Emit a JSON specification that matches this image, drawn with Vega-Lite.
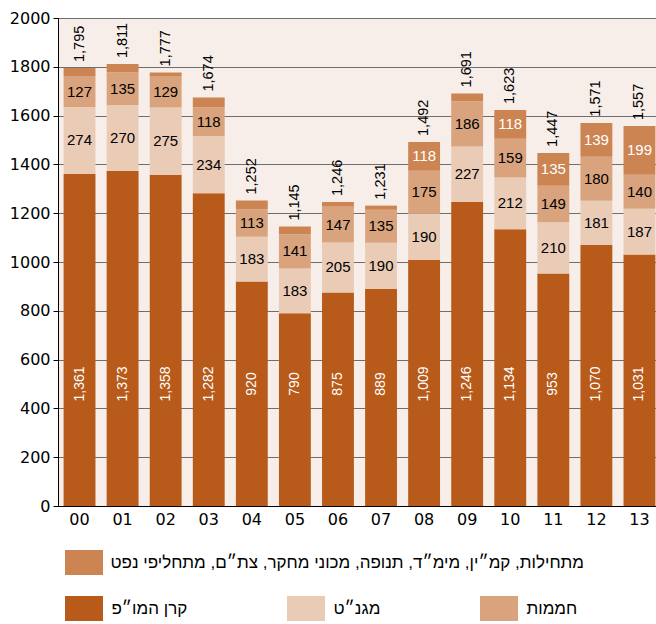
{
  "$schema": "https://vega.github.io/schema/vega-lite/v6.json",
  "width": 603,
  "height": 488,
  "autosize": {"type": "none"},
  "padding": {"left": 58, "top": 18, "right": 0, "bottom": 118},
  "background": "white",
  "config": {
    "view": {"fill": "#f7eee9", "stroke": "#000000", "strokeWidth": 1},
    "font": "Liberation Sans"
  },
  "datasets": {
    "seg": [
      {"year": "00", "series": "קרן המו״פ", "rank": 1, "value": 1361},
      {"year": "00", "series": "מגנ״ט", "rank": 2, "value": 274},
      {"year": "00", "series": "חממות", "rank": 3, "value": 127},
      {"year": "00", "series": "מתחילות, קמ״ין, מימ״ד, תנופה, מכוני מחקר, צת״ם, מתחליפי נפט", "rank": 4, "value": 33},
      {"year": "01", "series": "קרן המו״פ", "rank": 1, "value": 1373},
      {"year": "01", "series": "מגנ״ט", "rank": 2, "value": 270},
      {"year": "01", "series": "חממות", "rank": 3, "value": 135},
      {"year": "01", "series": "מתחילות, קמ״ין, מימ״ד, תנופה, מכוני מחקר, צת״ם, מתחליפי נפט", "rank": 4, "value": 33},
      {"year": "02", "series": "קרן המו״פ", "rank": 1, "value": 1358},
      {"year": "02", "series": "מגנ״ט", "rank": 2, "value": 275},
      {"year": "02", "series": "חממות", "rank": 3, "value": 129},
      {"year": "02", "series": "מתחילות, קמ״ין, מימ״ד, תנופה, מכוני מחקר, צת״ם, מתחליפי נפט", "rank": 4, "value": 15},
      {"year": "03", "series": "קרן המו״פ", "rank": 1, "value": 1282},
      {"year": "03", "series": "מגנ״ט", "rank": 2, "value": 234},
      {"year": "03", "series": "חממות", "rank": 3, "value": 118},
      {"year": "03", "series": "מתחילות, קמ״ין, מימ״ד, תנופה, מכוני מחקר, צת״ם, מתחליפי נפט", "rank": 4, "value": 40},
      {"year": "04", "series": "קרן המו״פ", "rank": 1, "value": 920},
      {"year": "04", "series": "מגנ״ט", "rank": 2, "value": 183},
      {"year": "04", "series": "חממות", "rank": 3, "value": 113},
      {"year": "04", "series": "מתחילות, קמ״ין, מימ״ד, תנופה, מכוני מחקר, צת״ם, מתחליפי נפט", "rank": 4, "value": 36},
      {"year": "05", "series": "קרן המו״פ", "rank": 1, "value": 790},
      {"year": "05", "series": "מגנ״ט", "rank": 2, "value": 183},
      {"year": "05", "series": "חממות", "rank": 3, "value": 141},
      {"year": "05", "series": "מתחילות, קמ״ין, מימ״ד, תנופה, מכוני מחקר, צת״ם, מתחליפי נפט", "rank": 4, "value": 31},
      {"year": "06", "series": "קרן המו״פ", "rank": 1, "value": 875},
      {"year": "06", "series": "מגנ״ט", "rank": 2, "value": 205},
      {"year": "06", "series": "חממות", "rank": 3, "value": 147},
      {"year": "06", "series": "מתחילות, קמ״ין, מימ״ד, תנופה, מכוני מחקר, צת״ם, מתחליפי נפט", "rank": 4, "value": 19},
      {"year": "07", "series": "קרן המו״פ", "rank": 1, "value": 889},
      {"year": "07", "series": "מגנ״ט", "rank": 2, "value": 190},
      {"year": "07", "series": "חממות", "rank": 3, "value": 135},
      {"year": "07", "series": "מתחילות, קמ״ין, מימ״ד, תנופה, מכוני מחקר, צת״ם, מתחליפי נפט", "rank": 4, "value": 17},
      {"year": "08", "series": "קרן המו״פ", "rank": 1, "value": 1009},
      {"year": "08", "series": "מגנ״ט", "rank": 2, "value": 190},
      {"year": "08", "series": "חממות", "rank": 3, "value": 175},
      {"year": "08", "series": "מתחילות, קמ״ין, מימ״ד, תנופה, מכוני מחקר, צת״ם, מתחליפי נפט", "rank": 4, "value": 118},
      {"year": "09", "series": "קרן המו״פ", "rank": 1, "value": 1246},
      {"year": "09", "series": "מגנ״ט", "rank": 2, "value": 227},
      {"year": "09", "series": "חממות", "rank": 3, "value": 186},
      {"year": "09", "series": "מתחילות, קמ״ין, מימ״ד, תנופה, מכוני מחקר, צת״ם, מתחליפי נפט", "rank": 4, "value": 32},
      {"year": "10", "series": "קרן המו״פ", "rank": 1, "value": 1134},
      {"year": "10", "series": "מגנ״ט", "rank": 2, "value": 212},
      {"year": "10", "series": "חממות", "rank": 3, "value": 159},
      {"year": "10", "series": "מתחילות, קמ״ין, מימ״ד, תנופה, מכוני מחקר, צת״ם, מתחליפי נפט", "rank": 4, "value": 118},
      {"year": "11", "series": "קרן המו״פ", "rank": 1, "value": 953},
      {"year": "11", "series": "מגנ״ט", "rank": 2, "value": 210},
      {"year": "11", "series": "חממות", "rank": 3, "value": 149},
      {"year": "11", "series": "מתחילות, קמ״ין, מימ״ד, תנופה, מכוני מחקר, צת״ם, מתחליפי נפט", "rank": 4, "value": 135},
      {"year": "12", "series": "קרן המו״פ", "rank": 1, "value": 1070},
      {"year": "12", "series": "מגנ״ט", "rank": 2, "value": 181},
      {"year": "12", "series": "חממות", "rank": 3, "value": 180},
      {"year": "12", "series": "מתחילות, קמ״ין, מימ״ד, תנופה, מכוני מחקר, צת״ם, מתחליפי נפט", "rank": 4, "value": 139},
      {"year": "13", "series": "קרן המו״פ", "rank": 1, "value": 1031},
      {"year": "13", "series": "מגנ״ט", "rank": 2, "value": 187},
      {"year": "13", "series": "חממות", "rank": 3, "value": 140},
      {"year": "13", "series": "מתחילות, קמ״ין, מימ״ד, תנופה, מכוני מחקר, צת״ם, מתחליפי נפט", "rank": 4, "value": 199}
    ],
    "tot": [
      {"year": "00", "total": 1795},
      {"year": "01", "total": 1811},
      {"year": "02", "total": 1777},
      {"year": "03", "total": 1674},
      {"year": "04", "total": 1252},
      {"year": "05", "total": 1145},
      {"year": "06", "total": 1246},
      {"year": "07", "total": 1231},
      {"year": "08", "total": 1492},
      {"year": "09", "total": 1691},
      {"year": "10", "total": 1623},
      {"year": "11", "total": 1447},
      {"year": "12", "total": 1571},
      {"year": "13", "total": 1557}
    ]
  },
  "encoding": {
    "x": {
      "field": "year",
      "type": "ordinal",
      "scale": {"paddingInner": 0.26, "paddingOuter": 0.13},
      "axis": {
        "title": null,
        "ticks": false,
        "domain": true,
        "domainColor": "#000000",
        "labelAngle": 0,
        "labelFont": "DejaVu Sans",
        "labelFontSize": 16,
        "labelColor": "#000000",
        "labelPadding": 5
      }
    }
  },
  "layer": [
    {
      "data": {"name": "seg"},
      "transform": [
        {"stack": "value", "groupby": ["year"], "sort": [{"field": "rank", "order": "ascending"}], "as": ["y0", "y1"]},
        {"filter": "datum.rank < 4"}
      ],
      "mark": {"type": "bar"},
      "encoding": {
        "y": {
          "field": "y0",
          "type": "quantitative",
          "scale": {"domain": [0, 2000], "nice": false},
          "axis": {
            "title": null,
            "format": "d",
            "values": [0, 200, 400, 600, 800, 1000, 1200, 1400, 1600, 1800, 2000],
            "grid": true,
            "gridColor": "#6e6e6e",
            "gridWidth": 1,
            "domainColor": "#000000",
            "tickColor": "#000000",
            "tickSize": 5,
            "labelFont": "DejaVu Sans",
            "labelFontSize": 16,
            "labelColor": "#000000",
            "labelPadding": 3
          }
        },
        "y2": {"field": "y1"},
        "color": {
          "field": "series",
          "type": "nominal",
          "scale": {
            "domain": ["קרן המו״פ", "מגנ״ט", "חממות"],
            "range": ["#b85a1a", "#eacbb6", "#d9a47d"]
          },
          "legend": {
            "orient": "none",
            "legendX": 13.5,
            "legendY": 578,
            "direction": "horizontal",
            "columns": 3,
            "columnPadding": 99,
            "title": null,
            "symbolType": "M-1.52,-1H1.52V1H-1.52Z",
            "symbolSize": 625,
            "symbolStrokeWidth": 0,
            "symbolOpacity": 1,
            "labelFont": "Liberation Sans",
            "labelFontSize": 17,
            "labelColor": "#000000",
            "labelOffset": 15,
            "labelLimit": 0,
            "padding": 0
          }
        }
      }
    },
    {
      "data": {"name": "seg"},
      "transform": [
        {"stack": "value", "groupby": ["year"], "sort": [{"field": "rank", "order": "ascending"}], "as": ["y0", "y1"]},
        {"filter": "datum.rank == 4"}
      ],
      "mark": {"type": "bar"},
      "encoding": {
        "y": {"field": "y0", "type": "quantitative"},
        "y2": {"field": "y1"},
        "fill": {
          "field": "series",
          "type": "nominal",
          "scale": {
            "domain": ["מתחילות, קמ״ין, מימ״ד, תנופה, מכוני מחקר, צת״ם, מתחליפי נפט"],
            "range": ["#cc8452"]
          },
          "legend": {
            "orient": "none",
            "legendX": 13.5,
            "legendY": 532,
            "title": null,
            "symbolType": "M-1.52,-1H1.52V1H-1.52Z",
            "symbolSize": 625,
            "symbolStrokeWidth": 0,
            "symbolOpacity": 1,
            "labelFont": "Liberation Sans",
            "labelFontSize": 17,
            "labelColor": "#000000",
            "labelOffset": 14,
            "labelLimit": 0,
            "padding": 0
          }
        }
      }
    },
    {
      "data": {"name": "seg"},
      "transform": [{"filter": "datum.rank == 1"}],
      "mark": {"type": "text", "angle": 270, "align": "center", "baseline": "middle", "fontSize": 14, "fill": "#ffffff"},
      "encoding": {
        "y": {"datum": 500, "type": "quantitative"},
        "text": {"field": "value", "type": "quantitative", "format": ","}
      }
    },
    {
      "data": {"name": "seg"},
      "transform": [
        {"stack": "value", "groupby": ["year"], "sort": [{"field": "rank", "order": "ascending"}], "as": ["y0", "y1"]},
        {"calculate": "(datum.y0 + datum.y1) / 2", "as": "mid"},
        {"filter": "datum.rank == 2 || datum.rank == 3"}
      ],
      "mark": {"type": "text", "align": "center", "baseline": "middle", "fontSize": 15, "fill": "#000000"},
      "encoding": {
        "y": {"field": "mid", "type": "quantitative"},
        "text": {"field": "value", "type": "quantitative", "format": ","}
      }
    },
    {
      "data": {"name": "seg"},
      "transform": [
        {"stack": "value", "groupby": ["year"], "sort": [{"field": "rank", "order": "ascending"}], "as": ["y0", "y1"]},
        {"calculate": "(datum.y0 + datum.y1) / 2", "as": "mid"},
        {"filter": "datum.rank == 4 && datum.value >= 100"}
      ],
      "mark": {"type": "text", "align": "center", "baseline": "middle", "fontSize": 15, "fill": "#ffffff"},
      "encoding": {
        "y": {"field": "mid", "type": "quantitative"},
        "text": {"field": "value", "type": "quantitative", "format": ","}
      }
    },
    {
      "data": {"name": "tot"},
      "mark": {"type": "text", "angle": 270, "align": "left", "baseline": "middle", "fontSize": 14.5, "fill": "#000000", "dx": 6},
      "encoding": {
        "y": {"field": "total", "type": "quantitative"},
        "text": {"field": "total", "type": "quantitative", "format": ","}
      }
    }
  ]
}
